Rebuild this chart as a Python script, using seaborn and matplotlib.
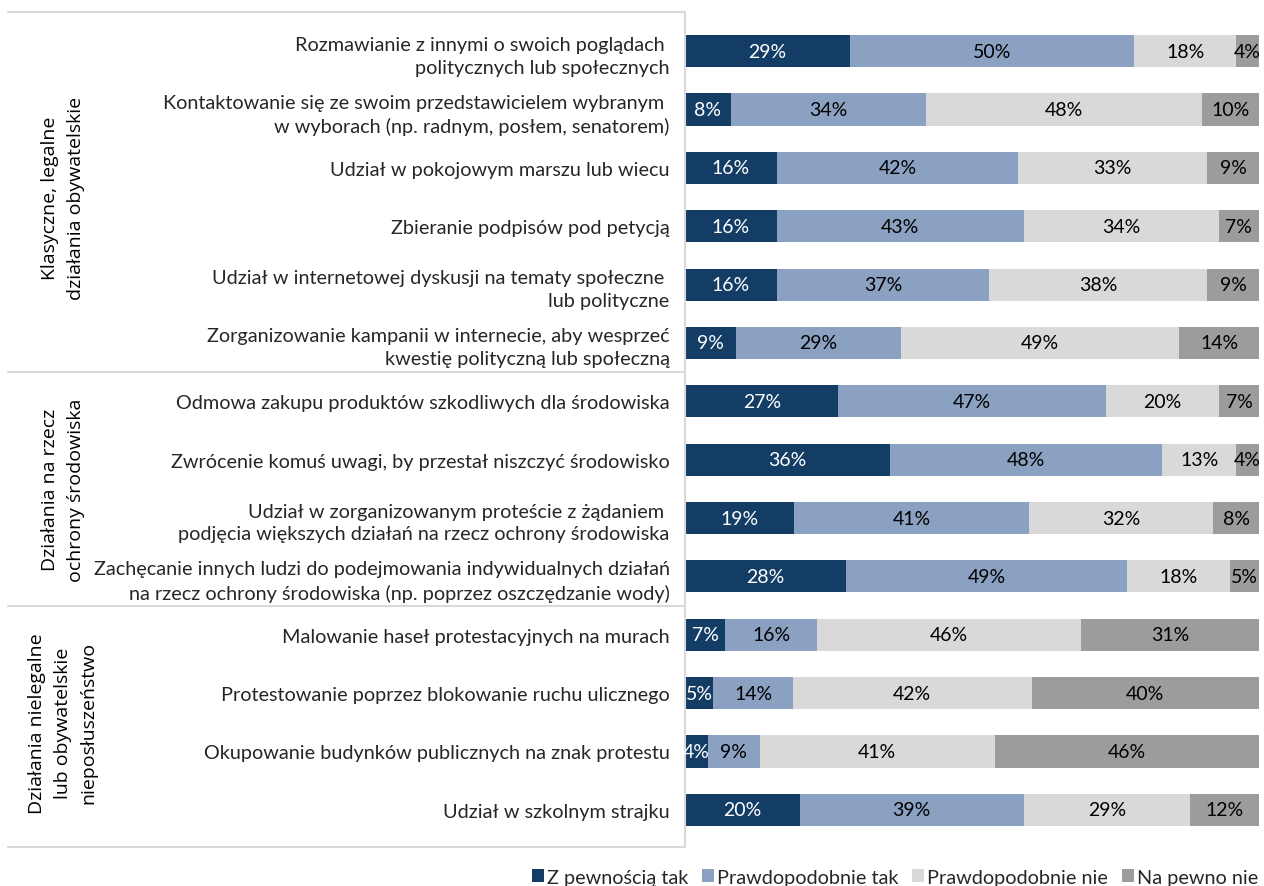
import matplotlib
matplotlib.use("Agg")
import matplotlib.pyplot as plt
import matplotlib.transforms as mtransforms
from matplotlib.lines import Line2D
from matplotlib.patches import Patch
import pandas as pd
import seaborn as sns

# Activities (rows, top to bottom)
activities = [
    "Rozmawianie z innymi o swoich poglądach \npolitycznych lub społecznych",
    "Kontaktowanie się ze swoim przedstawicielem wybranym \nw wyborach (np. radnym, posłem, senatorem)",
    "Udział w pokojowym marszu lub wiecu",
    "Zbieranie podpisów pod petycją",
    "Udział w internetowej dyskusji na tematy społeczne \nlub polityczne",
    "Zorganizowanie kampanii w internecie, aby wesprzeć\nkwestię polityczną lub społeczną",
    "Odmowa zakupu produktów szkodliwych dla środowiska",
    "Zwrócenie komuś uwagi, by przestał niszczyć środowisko",
    "Udział w zorganizowanym proteście z żądaniem \npodjęcia większych działań na rzecz ochrony środowiska",
    "Zachęcanie innych ludzi do podejmowania indywidualnych działań\nna rzecz ochrony środowiska (np. poprzez oszczędzanie wody)",
    "Malowanie haseł protestacyjnych na murach",
    "Protestowanie poprzez blokowanie ruchu ulicznego",
    "Okupowanie budynków publicznych na znak protestu",
    "Udział w szkolnym strajku",
]

groups = [
    "Klasyczne, legalne\ndziałania obywatelskie",
    "Działania na rzecz\nochrony środowiska",
    "Działania nielegalne\nlub obywatelskie\nnieposłuszeństwo",
]
group_sizes = [6, 4, 4]

answers = ["Z pewnością tak", "Prawdopodobnie tak", "Prawdopodobnie nie", "Na pewno nie"]
z_pewnoscia_tak = [29, 8, 16, 16, 16, 9, 27, 36, 19, 28, 7, 5, 4, 20]
prawdopodobnie_tak = [50, 34, 42, 43, 37, 29, 47, 48, 41, 49, 16, 14, 9, 39]
prawdopodobnie_nie = [18, 48, 33, 34, 38, 49, 20, 13, 32, 18, 46, 42, 41, 29]
na_pewno_nie = [4, 10, 9, 7, 9, 14, 7, 4, 8, 5, 31, 40, 46, 12]

colors = ["#143D66", "#8BA1C1", "#D9D9D9", "#9C9C9B"]
text_colors = ["white", "black", "black", "black"]
line_color = "#D9D9D9"

sns.set_theme(style="white")
plt.rcParams["font.family"] = ["Lato", "DejaVu Sans"]

df = pd.DataFrame(
    {
        answers[0]: z_pewnoscia_tak,
        answers[1]: prawdopodobnie_tak,
        answers[2]: prawdopodobnie_nie,
        answers[3]: na_pewno_nie,
    },
    index=activities,
)
# 100% stacked: each row normalised to its own total
shares = df.div(df.sum(axis=1), axis=0) * 100
cum = shares.cumsum(axis=1)

W, H = 1264, 887
fig = plt.figure(figsize=(W / 100, H / 100), dpi=100)
ax = fig.add_axes([685 / W, 1 - 840 / H, 574 / W, 817 / H])

# Draw cumulative layers from the widest to the narrowest
for col, color in reversed(list(zip(answers, colors))):
    sns.barplot(
        x=cum[col].values, y=activities, orient="h", color=color,
        width=0.55, saturation=1, errorbar=None, linewidth=0, ax=ax,
    )

# Value labels in segment centres
label_font = dict(family=["Lato", "DejaVu Sans"], fontsize=14)
for i, act in enumerate(activities):
    left = 0.0
    for j, col in enumerate(answers):
        w = shares.loc[act, col]
        ax.text(left + w / 2, i, f"{df.loc[act, col]}%", ha="center", va="center",
                color=text_colors[j], **label_font)
        left += w

ax.set_xlim(0, 100)
ax.set_ylim(13.5, -0.5)
ax.set_xticks([])
ax.set_xlabel("")
ax.set_ylabel("")
ax.tick_params(axis="y", length=0, pad=11)
ax.set_yticks(range(len(activities)))
ax.set_yticklabels(activities, fontsize=14.3, family=["Lato", "DejaVu Sans"], linespacing=1.42)
for s in ax.spines.values():
    s.set_visible(False)

# Frame lines of the category panel
trans = mtransforms.blended_transform_factory(fig.transFigure, ax.transData)
y_top, y_bot = -0.668, 13.63
x0, x1 = 8 / W, 685 / W
bounds = [y_top]
acc = 0
for n in group_sizes:
    acc += n
    bounds.append(acc - 0.5)
bounds[-1] = y_bot
for yb in bounds:
    ax.add_line(Line2D([x0, x1], [yb, yb], transform=trans, color=line_color,
                       lw=1.5, clip_on=False))
ax.add_line(Line2D([x1, x1], [y_top, y_bot], transform=trans, color=line_color,
                   lw=1.5, clip_on=False))

# Group labels
start = 0
for g, n in zip(groups, group_sizes):
    yc = start + (n - 1) / 2
    ax.text(63 / W, yc, g, transform=trans, rotation=90, ha="center", va="center",
            multialignment="center", fontsize=14, family=["Open Sans", "DejaVu Sans"],
            linespacing=1.55, color="black")
    start += n

handles = [Patch(facecolor=c, edgecolor="none") for c in colors]
fig.legend(handles, answers, loc="lower right", bbox_to_anchor=(1262 / W, -0.004), ncol=4,
           frameon=False, prop={"family": ["Lato", "DejaVu Sans"], "size": 14.3},
           handlelength=0.6, handleheight=0.6, handletextpad=0.15, columnspacing=0.7,
           borderaxespad=0, borderpad=0.2)

fig.savefig("out.png", dpi=100)
